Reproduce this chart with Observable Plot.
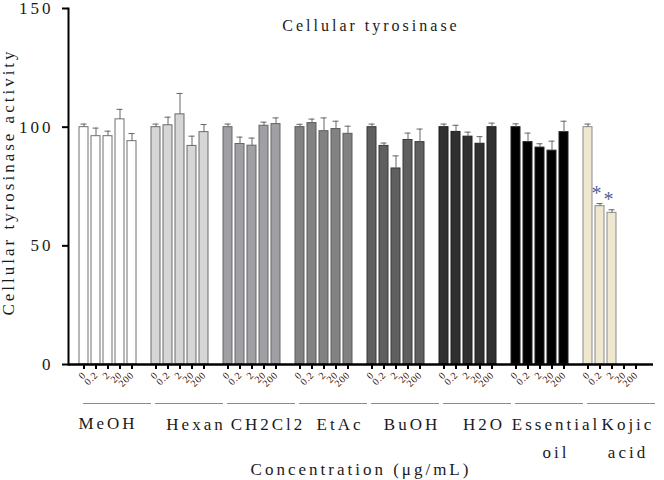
<!DOCTYPE html>
<html>
<head>
<meta charset="utf-8">
<script src="https://cdn.jsdelivr.net/npm/d3@7"></script>
<script src="https://cdn.jsdelivr.net/npm/@observablehq/plot@0.6"></script>
<style>
  html, body { margin: 0; padding: 0; background: #fff; }
  #chart svg { display: block; }
  #chart svg text { letter-spacing: 3px; }
  #chart g[aria-label="title"] text { letter-spacing: 4.5px; }
  #chart g[aria-label="x-axis tick label"] text { letter-spacing: 0.5px; }
</style>
</head>
<body>
<div id="chart"></div>
<script>
// ---- data ----
const groups = ["MeOH", "Hexan", "CH2Cl2", "EtAc", "BuOH", "H2O", "Essential oil", "Kojic acid"];
const doses = ["0", "0.2", "2", "20", "200"];

const meohMean   = [100, 96.2, 96.2, 103.3, 94.1];
const meohSD     = [1.3, 3.4, 2.1, 4.2, 3.2];
const hexanMean  = [100, 100.8, 105.4, 92.1, 97.9];
const hexanSD    = [1.3, 3.4, 8.8, 4.1, 3.2];
const ch2cl2Mean = [100, 92.9, 92.2, 100.6, 101.3];
const ch2cl2SD   = [1.3, 2.9, 3.2, 1.5, 2.6];
const etacMean   = [100, 101.7, 98.3, 99.2, 97.2];
const etacSD     = [1.2, 1.7, 5.6, 3.3, 3.2];
const buohMean   = [100, 92.1, 82.6, 94.6, 93.7];
const buohSD     = [1.3, 1.2, 5.3, 2.9, 5.5];
const h2oMean    = [100, 98.0, 96.0, 93.0, 100];
const h2oSD      = [1.3, 2.8, 1.9, 3.0, 1.7];
const oilMean    = [100, 93.7, 91.4, 90.1, 97.9];
const oilSD      = [1.4, 3.8, 1.6, 4.0, 4.6];
const kojicMean  = [100, 66.7, 63.9, null, null];
const kojicSD    = [1.3, 1.1, 1.3, null, null];
const kojicSignificant = [false, true, true, false, false];

const yTicks = [0, 50, 100, 150];

// ---- styles ----
const fills   = ["#ffffff", "#d6d6d6", "#a0a0a4", "#828282", "#5f5f5f", "#303030", "#000000", "#ede8cf"];
const strokes = ["#707070", "#6a6a6a", "#666666", "#5a5a5a", "#3a3a3a", "#1e1e1e", "#222222", "#8a8a8a"];

// ---- assemble ----
const means = [meohMean, hexanMean, ch2cl2Mean, etacMean, buohMean, h2oMean, oilMean, kojicMean];
const sds   = [meohSD, hexanSD, ch2cl2SD, etacSD, buohSD, h2oSD, oilSD, kojicSD];
const key = (g, d) => g + "|" + d;

const xDomain = [];
groups.forEach((g, gi) => {
  doses.forEach(d => xDomain.push(key(g, d)));
  if (gi < groups.length - 1) xDomain.push(key(g, "gap"));
});
const slotKeys = xDomain.filter(k => !k.endsWith("|gap"));

const rows = [];
groups.forEach((g, gi) => {
  doses.forEach((d, di) => {
    const m = means[gi][di];
    if (m == null) return;
    rows.push({
      group: g, dose: d, key: key(g, d), mean: m, sd: sds[gi][di],
      sig: gi === groups.length - 1 && kojicSignificant[di],
      fill: fills[gi], stroke: strokes[gi]
    });
  });
});

const font = "'Liberation Serif', 'Times New Roman', serif";
const ink = "#1a1a1a";

const plot = Plot.plot({
  width: 664,
  height: 480,
  marginLeft: 68,
  marginRight: 13,
  marginTop: 8,
  marginBottom: 116,
  style: { fontFamily: font, color: ink, background: "#fff" },
  x: { type: "band", domain: xDomain, paddingInner: 0.26, paddingOuter: 0.53 },
  y: { domain: [0, 150] },
  marks: [
    // bars
    Plot.barY(rows, { x: "key", y: "mean", fill: "fill", stroke: "stroke", strokeWidth: 1 }),
    // error bars (upper only)
    Plot.ruleX(rows, { x: "key", y1: "mean", y2: d => d.mean + d.sd, stroke: "#666", strokeWidth: 1 }),
    Plot.tickY(rows, { x: "key", y: d => d.mean + d.sd, stroke: "#666", strokeWidth: 1, insetLeft: 1.5, insetRight: 1.5 }),
    // significance asterisks
    Plot.text(rows.filter(d => d.sig), { x: "key", y: d => d.mean + d.sd, text: () => "*", dy: -10, dx: -2, fontSize: 20, fill: "#52619a" }),
    // axes lines
    Plot.ruleY([0], { stroke: "black", strokeWidth: 2.5, insetRight: -2 }),
    Plot.frame({ anchor: "left", stroke: "black", strokeWidth: 2 }),
    Plot.axisY({ ticks: yTicks, tickSize: 6, tickPadding: 9, fontSize: 17, stroke: "black", strokeWidth: 2, label: null }),
    Plot.axisX({
      ticks: slotKeys, tickFormat: k => k.split("|")[1], tickRotate: -45,
      tickSize: 5, tickPadding: 4, fontSize: 10, stroke: "black", strokeWidth: 2, label: null
    }),
    // group underline
    Plot.ruleY(groups, { x1: g => key(g, "0"), x2: g => key(g, "200"), y: () => 0, dy: 39, stroke: "#8a8a8a", strokeWidth: 1, insetLeft: 4, insetRight: -15 }),
    // group names
    Plot.text(groups.slice(0, 1), { x: g => key(g, "2"), y: () => 0, text: g => g, dy: 52, dx: 0, lineAnchor: "top", fontSize: 17, fill: ink }),
    Plot.text(groups.slice(1), { x: g => key(g, "2"), y: () => 0, text: g => g.replace(" ", "\n"), dy: 46, dx: 16, lineAnchor: "top", lineHeight: 1.65, fontSize: 17, fill: ink }),
    // titles
    Plot.text(["Cellular tyrosinase"], { frameAnchor: "top", lineAnchor: "middle", textAnchor: "middle", dy: 17.5, dx: 11, fontSize: 16, fill: ink, ariaLabel: "title" }),
    Plot.text(["Concentration (μg/mL)"], { frameAnchor: "bottom", lineAnchor: "middle", textAnchor: "middle", dy: 105, dx: 1, fontSize: 17, fill: ink }),
    Plot.text(["Cellular tyrosinase activity"], { frameAnchor: "left", lineAnchor: "middle", textAnchor: "middle", dx: -60, dy: -4.5, rotate: -90, fontSize: 17, fill: ink })
  ]
});

document.getElementById("chart").appendChild(plot);
</script>
</body>
</html>
